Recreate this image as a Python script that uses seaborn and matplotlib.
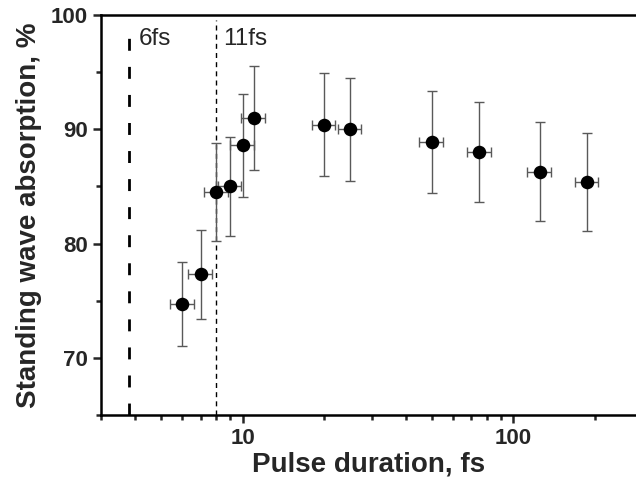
import numpy as np
import pandas as pd
import seaborn as sns
import matplotlib
matplotlib.use("Agg")
import matplotlib.pyplot as plt
from matplotlib.ticker import FixedLocator, NullFormatter, MultipleLocator

# data
pulse_fs = [6, 7, 8, 9, 10, 11, 20, 25, 50, 75, 125, 187.5]
absorption = [74.7, 77.3, 84.5, 85.0, 88.6, 91.0, 90.4, 90.0, 88.9, 88.0, 86.3, 85.4]
abs_err = [3.7, 3.9, 4.3, 4.3, 4.5, 4.55, 4.5, 4.5, 4.45, 4.4, 4.35, 4.3]
pulse_err_frac = 0.1
line_6fs = 3.8
line_11fs = 8.0

df = pd.DataFrame({'pulse': pulse_fs, 'absorption': absorption, 'err': abs_err})

sns.set_theme(style="ticks")
plt.rcParams['font.family'] = ['Liberation Sans', 'DejaVu Sans']

fig = plt.figure(figsize=(6.36, 4.83), dpi=100)
ax = fig.add_axes([101/636, 68/483, 1 - 101/636, 400/483])

ax.errorbar(df['pulse'], df['absorption'], yerr=df['err'],
            xerr=df['pulse'] * pulse_err_frac, fmt='none',
            ecolor='0.35', elinewidth=1.0, capsize=3.5, capthick=1.0, zorder=2)
sns.scatterplot(data=df, x='pulse', y='absorption', ax=ax, color='black',
                s=95, edgecolor='black', linewidth=0, zorder=3, legend=False)

ax.vlines(line_6fs, 65, 98.6, colors='black', linewidth=2.0,
          linestyles=(0, (4.3, 5.8)), zorder=1)
ax.vlines(line_11fs, 65, 99.6, colors='black', linewidth=1.0,
          linestyles=(0, (3.6, 3.0)), zorder=1)
ax.text(4.15, 97.4, '6fs', fontsize=17.5, va='baseline')
ax.text(8.5, 97.4, '11fs', fontsize=17.5, va='baseline')

ax.set_xscale('log')
ax.set_xlim(3, 284)
ax.set_ylim(65, 100)
ax.set_xticks([10, 100])
ax.set_xticklabels(['10', '100'])
ax.xaxis.set_minor_locator(FixedLocator([3, 4, 5, 6, 7, 8, 9, 20, 30, 40, 50, 60, 70, 80, 90, 200]))
ax.xaxis.set_minor_formatter(NullFormatter())
ax.set_yticks([70, 80, 90, 100])
ax.yaxis.set_minor_locator(MultipleLocator(5))

ax.tick_params(which='major', direction='out', length=6, width=1.8, labelsize=16)
ax.tick_params(which='minor', direction='out', length=3.5, width=1.8)
for lbl in ax.get_xticklabels() + ax.get_yticklabels():
    lbl.set_fontweight('bold')

for side in ['left', 'bottom', 'top']:
    ax.spines[side].set_linewidth(1.8)
    ax.spines[side].set_color('black')
ax.spines['right'].set_visible(False)

ax.set_xlabel('Pulse duration, fs', fontsize=20, fontweight='bold', labelpad=2)
ax.set_ylabel('Standing wave absorption, %', fontsize=20, fontweight='bold', labelpad=6)

plt.savefig('out.png', dpi=100)
